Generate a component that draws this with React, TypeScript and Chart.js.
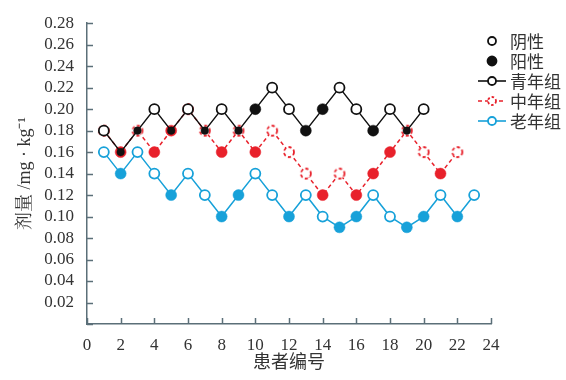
import React, { useEffect, useRef } from "react";
import { Chart, registerables } from "chart.js";

Chart.register(...registerables);

// ---- data ----
const patientsYoung = [1, 2, 3, 4, 5, 6, 7, 8, 9, 10, 11, 12, 13, 14, 15, 16, 17, 18, 19, 20];
const youngValues = [0.18, 0.16, 0.18, 0.20, 0.18, 0.20, 0.18, 0.20, 0.18, 0.20, 0.22, 0.20, 0.18, 0.20, 0.22, 0.20, 0.18, 0.20, 0.18, 0.20];
const youngPositive = [0, 1, 1, 0, 1, 0, 1, 0, 1, 1, 0, 0, 1, 1, 0, 0, 1, 0, 1, 0];
const youngSmall = [0, 1, 1, 0, 1, 0, 1, 0, 1, 0, 0, 0, 0, 0, 0, 0, 0, 0, 1, 0];

const patientsMiddle = [1, 2, 3, 4, 5, 6, 7, 8, 9, 10, 11, 12, 13, 14, 15, 16, 17, 18, 19, 20, 21, 22];
const middleValues = [0.18, 0.16, 0.18, 0.16, 0.18, 0.20, 0.18, 0.16, 0.18, 0.16, 0.18, 0.16, 0.14, 0.12, 0.14, 0.12, 0.14, 0.16, 0.18, 0.16, 0.14, 0.16];
const middlePositive = [0, 1, 0, 1, 1, 0, 0, 1, 0, 1, 0, 0, 0, 1, 0, 1, 1, 1, 0, 0, 1, 0];

const patientsOld = [1, 2, 3, 4, 5, 6, 7, 8, 9, 10, 11, 12, 13, 14, 15, 16, 17, 18, 19, 20, 21, 22, 23];
const oldValues = [0.16, 0.14, 0.16, 0.14, 0.12, 0.14, 0.12, 0.10, 0.12, 0.14, 0.12, 0.10, 0.12, 0.10, 0.09, 0.10, 0.12, 0.10, 0.09, 0.10, 0.12, 0.10, 0.12];
const oldPositive = [0, 1, 0, 0, 1, 0, 0, 1, 1, 0, 0, 1, 0, 0, 1, 1, 0, 0, 1, 1, 0, 1, 0];

const legendLabels = ["阴性", "阳性", "青年组", "中年组", "老年组"];
const xTitle = "患者编号";
const yTitle = "剂量 /mg · kg⁻¹";

// ---- styles ----
const BLACK = "#111111";
const RED = "#e8212b";
const BLUE = "#17a1d9";
const AXIS = "#5b6f78";
const TEXT = "#333333";
const SERIF = "'Liberation Serif', serif";
const YTITLE_FONT = "'Liberation Serif', 'Noto Serif CJK SC', serif";
const CJK = "'Noto Sans CJK SC', sans-serif";

Chart.defaults.font.family = SERIF;
Chart.defaults.font.size = 17;
Chart.defaults.color = TEXT;

function makeDashedCircle(color: string, r: number, lw: number) {
  const size = Math.ceil((r + lw) * 2 + 2);
  const c = document.createElement("canvas");
  c.width = size;
  c.height = size;
  const ctx = c.getContext("2d")!;
  ctx.beginPath();
  ctx.arc(size / 2, size / 2, r, 0, Math.PI * 2);
  ctx.fillStyle = "#ffffff";
  ctx.fill();
  ctx.setLineDash([3.2, 2.4]);
  ctx.lineWidth = lw;
  ctx.strokeStyle = color;
  ctx.stroke();
  return c;
}

const inwardTicks = {
  id: "inwardTicks",
  afterDatasetsDraw(chart: any) {
    const { ctx, scales, chartArea } = chart;
    const x = scales.x;
    const y = scales.y;
    ctx.save();
    ctx.strokeStyle = AXIS;
    ctx.lineWidth = 1.5;
    x.ticks.forEach((t: any) => {
      const px = Math.round(x.getPixelForValue(t.value)) + 0.5;
      ctx.beginPath();
      ctx.moveTo(px, chartArea.bottom);
      ctx.lineTo(px, chartArea.bottom - 6);
      ctx.stroke();
    });
    y.ticks.forEach((t: any) => {
      const py = Math.round(y.getPixelForValue(t.value)) + 0.5;
      ctx.beginPath();
      ctx.moveTo(chartArea.left, py);
      ctx.lineTo(chartArea.left + 6, py);
      ctx.stroke();
    });
    ctx.restore();
  },
};

const customLegend = {
  id: "customLegend",
  afterDraw(chart: any) {
    const { ctx } = chart;
    const mx = 492;
    const tx = 510;
    const ys = [41, 61, 81, 101, 121];
    ctx.save();
    const circle = (cx: number, cy: number, r: number, stroke: string, fill: string, dash: number[] = []) => {
      ctx.beginPath();
      ctx.arc(cx, cy, r, 0, Math.PI * 2);
      ctx.fillStyle = fill;
      ctx.fill();
      ctx.setLineDash(dash);
      ctx.lineWidth = 1.8;
      ctx.strokeStyle = stroke;
      ctx.stroke();
      ctx.setLineDash([]);
    };
    const line = (cy: number, color: string, dash: number[] = []) => {
      ctx.beginPath();
      ctx.setLineDash(dash);
      ctx.moveTo(478, cy);
      ctx.lineTo(506, cy);
      ctx.lineWidth = 1.6;
      ctx.strokeStyle = color;
      ctx.stroke();
      ctx.setLineDash([]);
    };
    circle(mx, ys[0], 4, BLACK, "#fff");
    circle(mx, ys[1], 4.5, BLACK, BLACK);
    line(ys[2], BLACK);
    circle(mx, ys[2], 4, BLACK, "#fff");
    line(ys[3], RED, [4, 3]);
    circle(mx, ys[3], 4, RED, "#fff", [2.5, 2]);
    line(ys[4], BLUE);
    circle(mx, ys[4], 4, BLUE, "#fff");
    ctx.fillStyle = TEXT;
    ctx.font = "17px " + CJK;
    ctx.textBaseline = "middle";
    ctx.textAlign = "left";
    legendLabels.forEach((l, i) => ctx.fillText(l, tx, ys[i] + 1));
    ctx.restore();
  },
};

export default function App() {
  const ref = useRef<HTMLCanvasElement>(null);
  useEffect(() => {
    document.body.style.margin = "0";
    const dashed = makeDashedCircle(RED, 5, 1.8);
    const chart = new Chart(ref.current!, {
      type: "line",
      data: {
        datasets: [
          {
            label: legendLabels[2],
            data: patientsYoung.map((p, i) => ({ x: p, y: youngValues[i] })),
            borderColor: BLACK,
            borderWidth: 1.5,
            pointBorderColor: BLACK,
            pointBackgroundColor: youngPositive.map((v) => (v ? BLACK : "#ffffff")),
            pointRadius: youngPositive.map((v, i) => (v ? (youngSmall[i] ? 3.8 : 5.5) : 5)),
            pointBorderWidth: youngPositive.map((v) => (v ? 0.5 : 1.8)),
          },
          {
            label: legendLabels[3],
            data: patientsMiddle.map((p, i) => ({ x: p, y: middleValues[i] })),
            borderColor: RED,
            borderWidth: 1.5,
            borderDash: [4, 3],
            pointBorderColor: RED,
            pointBackgroundColor: middlePositive.map((v) => (v ? RED : "#ffffff")),
            pointStyle: middlePositive.map((v) => (v ? "circle" : dashed)) as any,
            pointRadius: middlePositive.map((v) => (v ? 5.5 : 5)),
            pointBorderWidth: middlePositive.map((v) => (v ? 0.5 : 1.8)),
          },
          {
            label: legendLabels[4],
            data: patientsOld.map((p, i) => ({ x: p, y: oldValues[i] })),
            borderColor: BLUE,
            borderWidth: 1.5,
            pointBorderColor: BLUE,
            pointBackgroundColor: oldPositive.map((v) => (v ? BLUE : "#ffffff")),
            pointRadius: oldPositive.map((v) => (v ? 5.5 : 5)),
            pointBorderWidth: oldPositive.map((v) => (v ? 0.5 : 1.8)),
          },
        ],
      },
      options: {
        animation: false,
        responsive: true,
        maintainAspectRatio: false,
        font: { family: SERIF, size: 17 },
        layout: { padding: { top: 22, right: 75, left: 0, bottom: 0 } },
        plugins: { legend: { display: false }, tooltip: { enabled: false } },
        scales: {
          x: {
            type: "linear",
            min: 0,
            max: 24,
            afterFit: (s: any) => {
              s.height = 56;
            },
            ticks: {
              stepSize: 2,
              autoSkip: false,
              color: TEXT,
              padding: 11,
              maxRotation: 0,
              font: { family: SERIF, size: 17 },
            },
            grid: { display: false, drawTicks: false },
            border: { display: true, color: AXIS, width: 1.5 },
            title: {
              display: true,
              text: xTitle,
              color: TEXT,
              font: { family: CJK, size: 18 },
              padding: { top: 0, bottom: 8 },
            },
          },
          y: {
            type: "linear",
            min: 0,
            max: 0.28,
            afterFit: (s: any) => {
              s.width = 87;
            },
            ticks: {
              stepSize: 0.02,
              autoSkip: false,
              color: TEXT,
              padding: 13,
              font: { family: SERIF, size: 17 },
              callback: (v: any) => (Math.abs(Number(v)) < 1e-9 ? "" : Number(v).toFixed(2)),
            },
            grid: { display: false, drawTicks: false },
            border: { display: true, color: AXIS, width: 1.5 },
            title: {
              display: true,
              text: yTitle,
              color: TEXT,
              font: { family: YTITLE_FONT, size: 18 },
              padding: { top: 14, bottom: 0 },
            },
          },
        },
      } as any,
      plugins: [inwardTicks, customLegend],
    });
    return () => chart.destroy();
  }, []);
  return (
    <div style={{ position: "relative", width: 566, height: 380 }}>
      <canvas ref={ref} />
    </div>
  );
}
